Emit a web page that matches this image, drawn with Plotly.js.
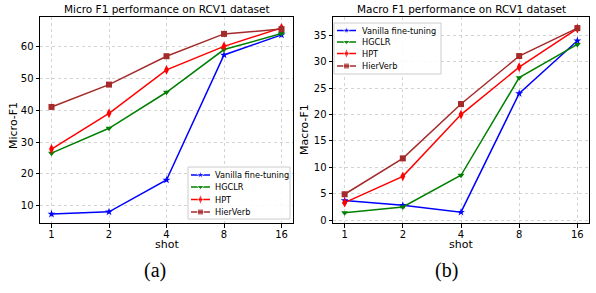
<!DOCTYPE html>
<html><head><meta charset="utf-8">
<script src="https://cdn.plot.ly/plotly-3.0.1.min.js"></script>
<style>html,body{margin:0;padding:0;background:#fff}</style>
</head><body><div id="c" style="width:596px;height:293px"></div>
<script>
const shots = ['1','2','4','8','16'];
const names = ['Vanilla fine-tuning','HGCLR','HPT','HierVerb'];
const colors = ['#0000ff','#008000','#ff0000','#a52a2a'];
const symbols = ['star','triangle-down','diamond-tall','square'];
const microVanilla = [7.4, 8.1, 18.1, 57.3, 63.6];
const microHGCLR = [26.5, 34.3, 45.6, 59.0, 64.0];
const microHPT = [27.8, 39.0, 52.6, 60.0, 65.8];
const microHierVerb = [41.0, 48.0, 56.9, 63.9, 65.4];
const macroVanilla = [3.7, 2.8, 1.5, 24.0, 34.0];
const macroHGCLR = [1.4, 2.5, 8.5, 27.0, 33.3];
const macroHPT = [3.3, 8.3, 20.0, 29.0, 36.3];
const macroHierVerb = [4.9, 11.7, 22.0, 31.1, 36.4];
const micro = [microVanilla, microHGCLR, microHPT, microHierVerb];
const macro = [macroVanilla, macroHGCLR, macroHPT, macroHierVerb];
const msize = [6,6,7,6];
const traces = [];
micro.forEach((v,i)=>traces.push({x:shots,y:v,name:names[i],type:'scatter',mode:'lines+markers',showlegend:false,
  line:{color:colors[i],width:1.5},marker:{symbol:symbols[i],size:msize[i],color:colors[i]},xaxis:'x',yaxis:'y'}));
macro.forEach((v,i)=>traces.push({x:shots,y:v,name:names[i],type:'scatter',mode:'lines+markers',showlegend:false,
  line:{color:colors[i],width:1.5},marker:{symbol:symbols[i],size:msize[i],color:colors[i]},xaxis:'x2',yaxis:'y2'}));

// custom compact legends (matplotlib style) on a pixel overlay axis
const annotations = [];
function addLegend(x0,y0,w,h,rowY,lineX0,lineX1,textX){
  traces.push({x:[x0,x0+w,x0+w,x0,x0],y:[y0,y0,y0+h,y0+h,y0],type:'scatter',mode:'lines',fill:'toself',
    fillcolor:'rgba(255,255,255,0.85)',line:{color:'#cccccc',width:1},xaxis:'x3',yaxis:'y3',showlegend:false,hoverinfo:'skip'});
  names.forEach((n,i)=>{
    const yy=y0+rowY[i];
    traces.push({x:[lineX0,(lineX0+lineX1)/2,lineX1],y:[yy,yy,yy],type:'scatter',mode:'lines+markers',
      line:{color:colors[i],width:1.5},marker:{symbol:symbols[i],size:[0,msize[i],0],color:colors[i]},
      xaxis:'x3',yaxis:'y3',showlegend:false,hoverinfo:'skip'});
    annotations.push({text:n,xref:'x3',yref:'y3',x:textX,y:yy,xanchor:'left',yanchor:'middle',showarrow:false,font:{size:8.2}});
  });
}
addLegend(188,167,102,52,[8,20,32.5,45],191,210,213);
addLegend(334,23,107,51,[7.5,19,30.5,43],337,356,360);

const font = {family:'DejaVu Sans, sans-serif',size:10,color:'#000'};
const ax = {showline:true,linecolor:'#000',linewidth:1,mirror:true,ticks:'outside',ticklen:3.5,tickcolor:'#000',
  showgrid:true,gridcolor:'#c8c8c8',griddash:'dot',gridwidth:0.8,zeroline:false,tickfont:{size:10}};
annotations.push(
  {text:'Micro F1 performance on RCV1 dataset',xref:'paper',yref:'paper',x:167/596,y:1-9/293,showarrow:false,font:{size:10.5},xanchor:'center',yanchor:'middle'},
  {text:'Macro F1 performance on RCV1 dataset',xref:'paper',yref:'paper',x:461/596,y:1-9/293,showarrow:false,font:{size:10.5},xanchor:'center',yanchor:'middle'},
  {text:'shot',xref:'paper',yref:'paper',x:167/596,y:1-244/293,showarrow:false,font:{size:11},xanchor:'center',yanchor:'middle'},
  {text:'shot',xref:'paper',yref:'paper',x:461/596,y:1-244/293,showarrow:false,font:{size:11},xanchor:'center',yanchor:'middle'},
  {text:'Micro-F1',xref:'paper',yref:'paper',x:14/596,y:1-126/293,showarrow:false,textangle:-90,font:{size:11},xanchor:'center',yanchor:'middle'},
  {text:'Macro-F1',xref:'paper',yref:'paper',x:305/596,y:1-130/293,showarrow:false,textangle:-90,font:{size:11},xanchor:'center',yanchor:'middle'},
  {text:'(a)',xref:'paper',yref:'paper',x:155/596,y:1-270/293,showarrow:false,font:{family:'Liberation Serif, serif',size:20},xanchor:'center',yanchor:'middle'},
  {text:'(b)',xref:'paper',yref:'paper',x:446/596,y:1-270/293,showarrow:false,font:{family:'Liberation Serif, serif',size:20},xanchor:'center',yanchor:'middle'}
);
const layout = {width:596,height:293,margin:{l:0,r:0,t:0,b:0},showlegend:false,font:font,
  paper_bgcolor:'#fff',plot_bgcolor:'rgba(0,0,0,0)',
  xaxis:Object.assign({},ax,{domain:[40/596,293/596],anchor:'y',type:'category',range:[-0.2,4.2],ticklabelstandoff:-2}),
  yaxis:Object.assign({},ax,{domain:[1-223/293,1-17/293],anchor:'x',range:[4.6,69.2],tickvals:[10,20,30,40,50,60]}),
  xaxis2:Object.assign({},ax,{domain:[333/596,589/596],anchor:'y2',type:'category',range:[-0.2,4.2],ticklabelstandoff:-2}),
  yaxis2:Object.assign({},ax,{domain:[1-223/293,1-17/293],anchor:'x2',range:[-0.55,38.5],tickvals:[0,5,10,15,20,25,30,35]}),
  xaxis3:{domain:[0,1],range:[0,596],visible:false,anchor:'y3',fixedrange:true},
  yaxis3:{domain:[0,1],range:[293,0],visible:false,anchor:'x3',fixedrange:true},
  annotations:annotations};
Plotly.newPlot('c',traces,layout,{staticPlot:true,displayModeBar:false});
</script></body></html>
